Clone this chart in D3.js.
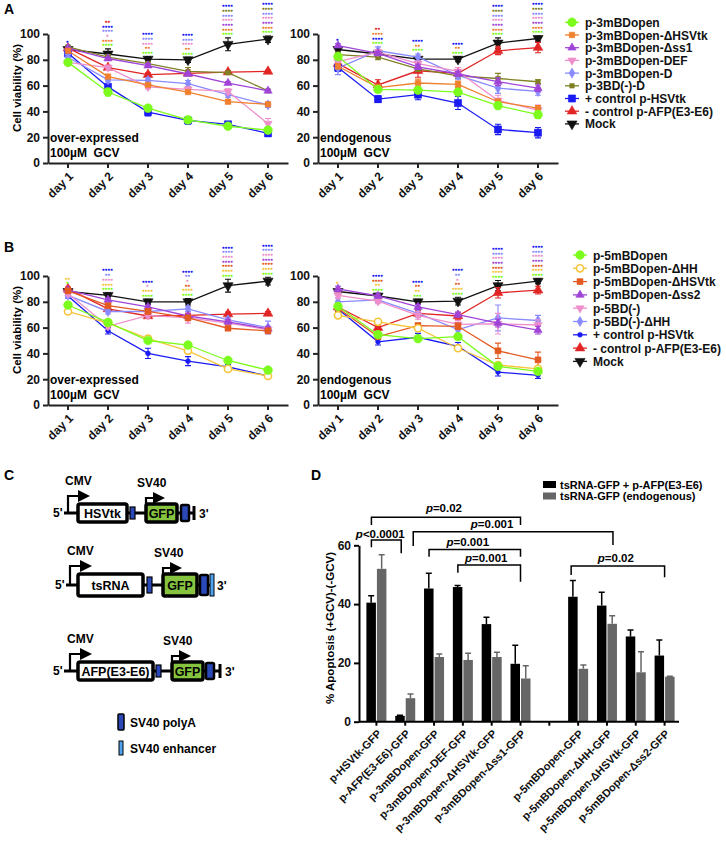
<!DOCTYPE html>
<html><head><meta charset="utf-8">
<script src="https://cdn.jsdelivr.net/npm/d3@7"></script>
<style>
body{margin:0;background:#fff;}
svg{display:block;font-family:"Liberation Sans",Arial,sans-serif;font-weight:bold;}
text{white-space:pre;}
</style></head><body>
<svg id="c" width="726" height="845"></svg>
<script>
// ---------------- DATA ----------------
const days = ["day 1","day 2","day 3","day 4","day 5","day 6"];
const yTicks = [0,20,40,60,80,100];

const seriesA = ["p-3mBDopen","p-3mBDopen-ΔHSVtk","p-3mBDopen-Δss1","p-3mBDopen-DEF","p-3mBDopen-D","p-3BD(-)-D","+ control p-HSVtk","- control p-AFP(E3-E6)","Mock"];
const seriesB = ["p-5mBDopen","p-5mBDopen-ΔHH","p-5mBDopen-ΔHSVtk","p-5mBDopen-Δss2","p-5BD(-)","p-5BD(-)-ΔHH","+ control p-HSVtk","- control p-AFP(E3-E6)","Mock"];

// Panel A, over-expressed (rows follow seriesA)
const aOver = [
  [78, 55, 42.5, 33.5, 28.5, 25.5],
  [87, 67, 60.5, 55, 47.5, 45.5],
  [89, 81, 75.5, 69, 62, 56],
  [78, 74, 59, 57, 55.5, 30.5],
  [82, 64.5, 64, 61.5, 53, 45],
  [90, 82, 77, 71, 70, 56],
  [85, 59, 39.5, 33, 30, 23],
  [89, 74, 68.5, 69.5, 70.5, 71],
  [88, 84.5, 80.5, 80, 92, 96]
];
const aOverErr = [
  [1.5, 3, 1.5, 2.5, 2, 1.5],
  [1, 1.5, 1, 1, 1, 1],
  [1, 1, 1.5, 1, 1, 1],
  [1.5, 2, 1.5, 2, 2, 4],
  [2, 1.5, 2, 2.5, 2, 2],
  [1, 2, 1.5, 3, 1, 1],
  [2.5, 2, 3, 3, 2, 2.5],
  [1, 1, 1.5, 1, 1, 1],
  [2, 4, 2, 2, 5, 2.5]
];
// Panel A, endogenous
const aEndo = [
  [82.5, 57, 56.5, 55, 44.5, 37.5],
  [75, 58.5, 62, 61, 47.5, 42.5],
  [91, 85, 74.5, 69, 63, 58],
  [78.5, 86, 77, 71, 48.5, 41],
  [73.5, 87, 82, 68, 58, 55.5],
  [84, 82, 73, 67.5, 65.5, 63],
  [74, 49.5, 53, 46.5, 26, 23.5],
  [77, 60.5, 71.5, 69.5, 87, 89.5],
  [88, 84.5, 80.5, 80.5, 93, 96.5]
];
const aEndoErr = [
  [2, 2, 2, 2.5, 2.5, 3],
  [2, 2.5, 3, 2.5, 2, 2],
  [1.5, 1.5, 2, 2, 3, 2.5],
  [3, 2, 2, 3, 4, 4],
  [5, 3, 2.5, 3, 4, 3],
  [2, 2, 2, 2, 4, 1.5],
  [3, 2.5, 4, 5, 4, 4],
  [2, 4, 5, 2.5, 3, 4],
  [2, 2, 1.5, 2, 4, 2]
];
// Panel B, over-expressed (rows follow seriesB)
const bOver = [
  [77.5, 64, 50, 46.5, 34.5, 27],
  [72.5, 63.5, 51.5, 42, 28, 22.5],
  [88.5, 77, 72.5, 67.5, 59.5, 57.5],
  [89, 81.5, 76, 69, 64.5, 59],
  [86.5, 61, 69.5, 67.5, 63.5, 58.5],
  [85, 72.5, 72.5, 74.5, 66, 60],
  [84.5, 57.5, 40, 34, 29.5, 22.5],
  [90, 74.5, 69, 69.5, 70.5, 71],
  [88, 85, 80, 80, 92.5, 96]
];
const bOverErr = [
  [1.5, 1.5, 2, 1.5, 2, 1.5],
  [2, 1.5, 1.5, 1.5, 1.5, 1.5],
  [2, 1.5, 2, 2, 1, 2],
  [1.5, 1.5, 1.5, 1.5, 1.5, 2],
  [2, 2, 2, 4, 2, 2],
  [1.5, 2, 2, 2, 2, 5],
  [1.5, 2.5, 4, 3.5, 2, 2],
  [1.5, 1.5, 1.5, 1.5, 1.5, 1.5],
  [1.5, 2, 2, 2.5, 5, 3]
];
// Panel B, endogenous
const bEndo = [
  [76.5, 54.5, 51.5, 53, 30, 26],
  [69.5, 64.5, 59.5, 44, 31, 28],
  [75, 53, 61.5, 61, 42, 35],
  [90, 84.5, 76, 70, 63.5, 58],
  [85, 80.5, 69.5, 62.5, 63, 62],
  [80, 81.5, 71, 58.5, 67.5, 65.5],
  [74.5, 49, 52.5, 45.5, 25.5, 23],
  [76, 60, 71, 69, 87, 89],
  [88, 84.5, 80, 80.5, 92.5, 96]
];
const bEndoErr = [
  [2, 2, 2, 2, 2, 2],
  [2, 2, 2, 2, 2, 2],
  [2, 2, 2, 2.5, 6, 6],
  [2, 1.5, 2, 2, 3, 3],
  [2, 2, 3, 3, 8, 4],
  [3, 2, 3, 3, 10, 4],
  [2, 2.5, 3, 3, 3, 2.5],
  [2, 2, 2, 2.5, 4, 3],
  [2, 2, 2, 3, 4, 2]
];

// significance stars per day: [series index, stars], top row first
const full7A = [[6,"****"],[5,"****"],[4,"****"],[3,"****"],[2,"****"],[1,"****"],[0,"****"]];
const starsAOver = [
  [[6,"*"]],
  [[7,"**"],[6,"****"],[4,"****"],[3,"*"],[1,"****"],[0,"****"]],
  [[6,"****"],[4,"****"],[3,"****"],[1,"**"],[0,"****"]],
  [[6,"****"],[4,"****"],[3,"****"],[1,"**"],[0,"****"]],
  full7A, full7A
];
const starsAEndo = [
  [[6,"*"]],
  [[7,"**"],[1,"****"],[6,"****"],[0,"****"]],
  [[6,"****"],[1,"**"],[0,"****"]],
  [[6,"****"],[1,"**"],[0,"****"]],
  full7A, full7A
];
const full7B = [[6,"****"],[5,"****"],[4,"****"],[3,"****"],[2,"****"],[1,"****"],[0,"****"]];
const starsBOver = [
  [[1,"**"],[0,"*"]],
  [[6,"****"],[5,"**"],[4,"****"],[1,"****"],[0,"****"]],
  [[6,"****"],[4,"*"],[1,"****"],[0,"****"]],
  [[6,"****"],[5,"**"],[4,"*"],[2,"**"],[1,"****"],[0,"****"]],
  full7B, full7B
];
const starsBEndo = [
  [[1,"*"]],
  [[6,"****"],[2,"****"],[1,"**"],[0,"****"]],
  [[6,"****"],[2,"**"],[1,"**"],[0,"***"]],
  [[6,"****"],[5,"**"],[4,"*"],[2,"**"],[1,"****"],[0,"****"]],
  full7B, full7B
];

// Panel D
const dCats = ["p-HSVtk-GFP","p-AFP(E3-E6)-GFP","p-3mBDopen-GFP","p-3mBDopen-DEF-GFP","p-3mBDopen-ΔHSVtk-GFP","p-3mBDopen-Δss1-GFP"," ","p-5mBDopen-GFP","p-5mBDopen-ΔHH-GFP","p-5mBDopen-ΔHSVtk-GFP","p-5mBDopen-Δss2-GFP"];
const dSeries = ["tsRNA-GFP + p-AFP(E3-E6)","tsRNA-GFP (endogenous)"];
const dOver    = [40.5, 2, 45.3, 45.8, 33.2, 19.7, null, 42.5, 39.5, 29, 22.5];
const dOverErr = [2.3, 0.2, 5.2, 0.5, 2.3, 6.3, null, 5.5, 4.5, 2.2, 5.3];
const dEndo    = [52, 8, 22, 21, 22, 14.7, null, 18, 33.3, 16.8, 15.3];
const dEndoErr = [4.8, 1.4, 1, 2.3, 1.6, 4.3, null, 1.3, 2.7, 7, 0.2];
const dTicks = [0,20,40,60];
const pLabels = ["=0.02","=0.001","<0.0001","=0.001","=0.001","=0.02"];

// ---------------- STYLE ----------------
const colA = ["#7CFC1C","#F07F2E","#A044D8","#EE8FCB","#8A8AFF","#808024","#1A1AF5","#E22424","#111111"];
const colB = ["#7CFC1C","#F5C53A","#E35A20","#A044D8","#EE8FCB","#8A8AFF","#1A1AF5","#E22424","#111111"];
const shpA = ["circle","square","tri","triDown","diamond","square","square","tri","triDown"];
const shpB = ["circle","circle","square","tri","triDown","diamond","circle","tri","triDown"];
const sizA = [60,30,30,30,30,20,50,40,45];
const sizB = [60,40,35,30,30,30,18,40,45];
const openB = [false,true,false,false,false,false,false,false,false];
const openA = [false,false,false,false,false,false,false,false,false];

const svg = d3.select("#c");
svg.append("rect").attr("width",726).attr("height",845).attr("fill","#fff");

function drawMarker(g, cx, cy, shape, size, color, open) {
  const type = {circle:d3.symbolCircle, square:d3.symbolSquare, tri:d3.symbolTriangle, triDown:d3.symbolTriangle, diamond:d3.symbolDiamond}[shape];
  g.append("path").attr("d", d3.symbol().type(type).size(size)())
    .attr("transform", `translate(${cx},${cy})` + (shape==="triDown" ? " rotate(180)" : ""))
    .attr("fill", open ? "#fff" : color).attr("stroke", color).attr("stroke-width", open ? 1.6 : 0.6);
}

function styleAxis(a, color) {
  a.attr("font-size", null).attr("font-family", null);
  a.select(".domain").attr("stroke", color).attr("stroke-width", 2);
  a.selectAll(".tick line").attr("stroke", color).attr("stroke-width", 2);
  a.selectAll(".tick text").attr("fill", "#111").style("font-size", "12px").style("font-weight","bold");
}

function linePanel(cfg) {
  const g = svg.append("g");
  const x = d3.scaleBand().domain(days).range([cfg.x0, cfg.x0 + 240]);
  const y = d3.scaleLinear().domain([0, 100]).range([cfg.yZero, cfg.yZero - 129]);
  const yAx = g.append("g").attr("transform", `translate(${cfg.x0},0)`)
    .call(d3.axisLeft(y).tickValues(yTicks).tickSize(5).tickSizeOuter(0).tickPadding(3));
  styleAxis(yAx, "#222");
  const xAx = g.append("g").attr("transform", `translate(0,${cfg.yZero})`)
    .call(d3.axisBottom(x).tickSize(5).tickSizeOuter(0));
  styleAxis(xAx, "#222");
  xAx.selectAll(".tick text").attr("y", 0).attr("dy", "0.35em").attr("text-anchor", "end")
    .attr("transform", "translate(3,11) rotate(-45)");
  if (cfg.ylabel) {
    g.append("text").attr("transform", `translate(${cfg.x0 - 27},${cfg.yZero - 75}) rotate(-90)`)
      .attr("text-anchor", "middle").style("font-size", "11.5px").text("Cell viability (%)");
  }
  const cx = d => x(d) + x.bandwidth() / 2;
  const line = d3.line().x((v, i) => cx(days[i])).y(v => y(v));
  for (let s = cfg.vals.length - 1; s >= 0; s--) {
    const vals = cfg.vals[s], errs = cfg.errs[s], c = cfg.colors[s];
    g.append("path").attr("d", line(vals)).attr("fill", "none").attr("stroke", c).attr("stroke-width", 1.3);
    vals.forEach((v, i) => {
      const xx = cx(days[i]), e = errs[i];
      g.append("path").attr("d", `M${xx},${y(v - e)}V${y(v + e)}M${xx - 3},${y(v - e)}H${xx + 3}M${xx - 3},${y(v + e)}H${xx + 3}`)
        .attr("stroke", c).attr("stroke-width", 1.1).attr("fill", "none");
    });
    vals.forEach((v, i) => drawMarker(g, cx(days[i]), y(v), cfg.shapes[s], cfg.sizes[s], c, cfg.open[s]));
  }
  // stars
  cfg.stars.forEach((rows, i) => {
    let top = d3.max(cfg.vals, (r, s) => r[i] + cfg.errs[s][i]);
    const base = y(top) - 1.5;
    const n = rows.length;
    rows.forEach((r, k) => {
      g.append("text").attr("x", cx(days[i])).attr("y", base - (n - 1 - k) * 4.7)
        .attr("text-anchor", "middle").attr("fill", cfg.colors[r[0]])
        .attr("stroke", cfg.colors[r[0]]).attr("stroke-width", 0.45)
        .style("font-size", "4.3px").style("letter-spacing", "1.1px").text(r[1]);
    });
  });
  g.append("text").attr("x", cfg.x0 + 2).attr("y", cfg.yZero - 21).style("font-size", "12px").text(cfg.cond);
  g.append("text").attr("x", cfg.x0 + 2).attr("y", cfg.yZero - 6).style("font-size", "12px").text("100µM  GCV");
}

function legend(series, colors, shapes, sizes, open, mx, tx, y0, dy) {
  const g = svg.append("g");
  series.forEach((name, i) => {
    const yy = y0 + i * dy;
    g.append("line").attr("x1", mx - 7).attr("x2", mx + 7).attr("y1", yy).attr("y2", yy)
      .attr("stroke", colors[i]).attr("stroke-width", 1.3);
    drawMarker(g, mx, yy, shapes[i], sizes[i], colors[i], open[i]);
    g.append("text").attr("x", tx).attr("y", yy + 4.5).style("font-size", "12px").attr("fill", "#111").text(name);
  });
}

// Panel labels
[["A",4,14],["B",4,252],["C",4,480],["D",311,480]].forEach(p =>
  svg.append("text").attr("x", p[1]).attr("y", p[2]).style("font-size", "14px").text(p[0]));

linePanel({x0:48, yZero:163, vals:aOver, errs:aOverErr, colors:colA, shapes:shpA, sizes:sizA, open:openA, stars:starsAOver, ylabel:true, cond:"over-expressed"});
linePanel({x0:318, yZero:163, vals:aEndo, errs:aEndoErr, colors:colA, shapes:shpA, sizes:sizA, open:openA, stars:starsAEndo, ylabel:false, cond:"endogenous"});
legend(seriesA, colA, shpA, sizA, openA, 572, 585, 22.3, 12.7);

linePanel({x0:48, yZero:405, vals:bOver, errs:bOverErr, colors:colB, shapes:shpB, sizes:sizB, open:openB, stars:starsBOver, ylabel:true, cond:"over-expressed"});
linePanel({x0:318, yZero:405, vals:bEndo, errs:bEndoErr, colors:colB, shapes:shpB, sizes:sizB, open:openB, stars:starsBEndo, ylabel:false, cond:"endogenous"});
legend(seriesB, colB, shpB, sizB, openB, 580, 593, 255, 13.3);

// ---------------- Panel C (schematic) ----------------
const polyBlue = "#2A48B8", enhBlue = "#4FA3EE", gfpGreen = "#86C440";
function construct(c) {
  const g = svg.append("g");
  const yc = c.y;
  g.append("text").attr("x", c.x5).attr("y", yc + 4).style("font-size", "12px").text("5'");
  g.append("line").attr("x1", c.x5 + 11).attr("x2", c.capX).attr("y1", yc).attr("y2", yc).attr("stroke", "#000").attr("stroke-width", 3);
  const ah = c.h / 2 + 8;
  g.append("path").attr("d", `M${c.cmvX},${yc}V${yc - ah}H${c.cmvX + 11}`).attr("fill", "none").attr("stroke", "#000").attr("stroke-width", 2.2);
  g.append("path").attr("d", `M${c.cmvX + 10},${yc - ah - 6}L${c.cmvX + 22},${yc - ah}L${c.cmvX + 10},${yc - ah + 6}Z`).attr("fill", "#000");
  g.append("text").attr("x", c.cmvX - 3).attr("y", yc - ah - 11).style("font-size", "12px").text("CMV");
  g.append("rect").attr("x", c.gx).attr("y", yc - c.h / 2).attr("width", c.gw).attr("height", c.h).attr("rx", 2)
    .attr("fill", "#fff").attr("stroke", "#000").attr("stroke-width", 3.5);
  g.append("text").attr("x", c.gx + c.gw / 2).attr("y", yc + 5).attr("text-anchor", "middle").style("font-size", "12.5px").text(c.gene);
  g.append("rect").attr("x", c.p1).attr("y", yc - c.h / 2 + 3).attr("width", 5).attr("height", c.h - 6)
    .attr("fill", polyBlue).attr("stroke", "#000").attr("stroke-width", 1.2);
  g.append("path").attr("d", `M${c.svX},${yc - c.h / 2}V${yc - ah + 2}H${c.svX + 8}`).attr("fill", "none").attr("stroke", "#000").attr("stroke-width", 2.2);
  g.append("path").attr("d", `M${c.svX + 7},${yc - ah - 4}L${c.svX + 19},${yc - ah + 2}L${c.svX + 7},${yc - ah + 8}Z`).attr("fill", "#000");
  g.append("text").attr("x", c.svX - 9).attr("y", yc - ah - 9).style("font-size", "12px").text("SV40");
  g.append("rect").attr("x", c.gfpX).attr("y", yc - c.h / 2).attr("width", c.gfpW).attr("height", c.h).attr("rx", 2)
    .attr("fill", gfpGreen).attr("stroke", "#000").attr("stroke-width", 3.5);
  g.append("text").attr("x", c.gfpX + c.gfpW / 2).attr("y", yc + 5).attr("text-anchor", "middle").style("font-size", "12.5px").text("GFP");
  g.append("rect").attr("x", c.p2).attr("y", yc - c.h / 2 + 1).attr("width", 8).attr("height", c.h - 2).attr("rx", 1.5)
    .attr("fill", polyBlue).attr("stroke", "#000").attr("stroke-width", 2.5);
  if (c.enh) {
    g.append("rect").attr("x", c.enh).attr("y", yc - c.h / 2).attr("width", 4).attr("height", c.h)
      .attr("fill", enhBlue).attr("stroke", "#000").attr("stroke-width", 1);
  } else {
    g.append("line").attr("x1", c.capX).attr("x2", c.capX).attr("y1", yc - 7).attr("y2", yc + 7).attr("stroke", "#000").attr("stroke-width", 3);
  }
  g.append("text").attr("x", c.capX + 5).attr("y", yc + 5).style("font-size", "12px").text("3'");
}
construct({y:513, h:18, x5:53, cmvX:68, gx:78, gw:49, gene:"HSVtk", p1:130, svX:146, gfpX:146, gfpW:31, p2:181, capX:194});
construct({y:585, h:22, x5:55, cmvX:70, gx:78, gw:65, gene:"tsRNA", p1:147, svX:163, gfpX:163, gfpW:34, p2:200, capX:212, enh:210});
construct({y:671, h:18, x5:53, cmvX:70, gx:78, gw:75, gene:"AFP(E3-E6)", p1:156, svX:172, gfpX:172, gfpW:31, p2:206, capX:220});
svg.append("rect").attr("x", 118).attr("y", 714).attr("width", 6).attr("height", 16).attr("rx", 1).attr("fill", polyBlue).attr("stroke", "#000").attr("stroke-width", 1.5);
svg.append("text").attr("x", 130).attr("y", 727).style("font-size", "12px").text("SV40 polyA");
svg.append("rect").attr("x", 119).attr("y", 741).attr("width", 4).attr("height", 14).attr("fill", enhBlue).attr("stroke", "#000").attr("stroke-width", 1);
svg.append("text").attr("x", 130).attr("y", 753).style("font-size", "12px").text("SV40 enhancer");

// ---------------- Panel D ----------------
(function () {
  const g = svg.append("g");
  const x = d3.scaleBand().domain(dCats).range([362, 679]);
  const y = d3.scaleLinear().domain([0, 60]).range([721.7, 545.3]);
  const c = d => x(d) + x.bandwidth() / 2;
  const bw = 9.5;
  const colors = ["#000000", "#666666"];
  [dOver, dEndo].forEach((vals, s) => {
    const errs = s === 0 ? dOverErr : dEndoErr;
    vals.forEach((v, i) => {
      if (v == null) return;
      const x0 = s === 0 ? c(dCats[i]) - bw - 0.5 : c(dCats[i]) + 0.5;
      g.append("rect").attr("x", x0).attr("y", y(v)).attr("width", bw).attr("height", y(0) - y(v)).attr("fill", colors[s]);
      const xm = x0 + bw / 2;
      g.append("path").attr("d", `M${xm},${y(v)}V${y(v + errs[i])}M${xm - 3},${y(v + errs[i])}H${xm + 3}`)
        .attr("stroke", colors[s]).attr("stroke-width", 1.5).attr("fill", "none");
    });
  });
  const yAx = g.append("g").attr("transform", "translate(359,0)")
    .call(d3.axisLeft(y).tickValues(dTicks).tickSize(5).tickSizeOuter(0).tickPadding(3));
  styleAxis(yAx, "#000");
  const xAx = g.append("g").attr("transform", "translate(0,721.7)")
    .call(d3.axisBottom(x).tickSize(4).tickSizeOuter(0));
  styleAxis(xAx, "#000");
  xAx.select(".domain").attr("d", "M359,0H679");
  xAx.selectAll(".tick text").attr("y", 0).attr("dy", "0.35em").attr("text-anchor", "end")
    .style("font-size", "11px").attr("transform", "translate(3,10) rotate(-45)");
  g.append("text").attr("transform", "translate(334,628) rotate(-90)").attr("text-anchor", "middle")
    .style("font-size", "11.5px").text("% Apoptosis (+GCV)-(-GCV)");
  dSeries.forEach((name, i) => {
    g.append("rect").attr("x", 543).attr("y", 481 + i * 11.5).attr("width", 13).attr("height", 7).attr("fill", colors[i]);
    g.append("text").attr("x", 560).attr("y", 488.5 + i * 11.5).style("font-size", "11px").text(name);
  });
  // brackets: [left cat, left offset, left foot, right cat, right offset, right foot, top, label dx, label lift]
  const br = [
    [0, -5, 66.9, 5, 0, 66.9, 69.5, -2, 5.6],
    [1, 8, 59.8, 8, 6, 60.1, 64.6, -21, 3.7],
    [0, -5, 59.3, 1, -4, 57.3, 61.8, -6, 2.2],
    [2, -5, 56.1, 5, 0, 56.1, 58.6, -7, 3.3],
    [3, -5, 50.7, 5, 0, 47.6, 53.3, -3, 3.3],
    [7, -7, 49.9, 10, 0, 49.1, 53, -2, 4.3]
  ];
  br.forEach((b, k) => {
    const xl = c(dCats[b[0]]) + b[1], xr = c(dCats[b[3]]) + b[4];
    g.append("path").attr("d", `M${xl},${y(b[2])}V${y(b[6])}H${xr}V${y(b[5])}`)
      .attr("fill", "none").attr("stroke", "#000").attr("stroke-width", 1.5);
    const t = g.append("text").attr("x", (xl + xr) / 2 + b[7]).attr("y", y(b[6]) - b[8])
      .attr("text-anchor", "middle").style("font-size", "11.5px");
    t.append("tspan").style("font-style", "italic").text("p");
    t.append("tspan").text(pLabels[k]);
  });
})();
</script></body></html>
